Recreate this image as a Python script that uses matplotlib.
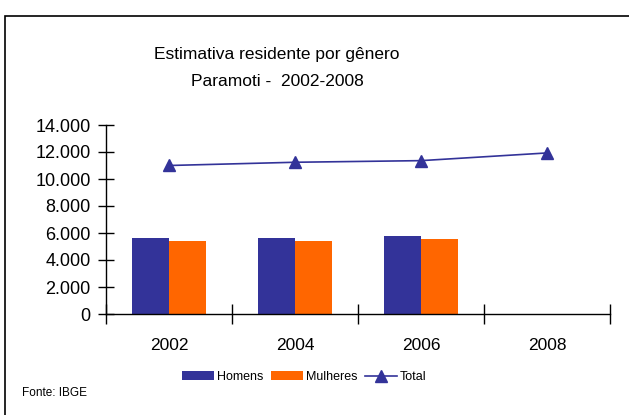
import matplotlib
matplotlib.use("Agg")
import matplotlib.pyplot as plt
import numpy as np
from matplotlib.patches import Rectangle

# data
years = ["2002", "2004", "2006", "2008"]
homens = [5630, 5630, 5780, np.nan]
mulheres = [5410, 5410, 5560, np.nan]
total = [11000, 11240, 11360, 11930]

plt.rcParams["font.family"] = ["Liberation Sans", "DejaVu Sans"]

W, H = 629, 415
fig = plt.figure(figsize=(W / 100, H / 100), dpi=100)

# outer chart frame (cut off on the right and bottom)
fig.patches.append(Rectangle((5 / W, -0.1), 1.2, 1 - 16 / H + 0.1,
                             transform=fig.transFigure, fill=False,
                             edgecolor="black", linewidth=1.2))

ax = fig.add_axes([106 / W, 1 - 314 / H, (610 - 106) / W, (314 - 125) / H])

x = np.arange(len(years))
bw = 0.29
b1 = ax.bar(x - bw / 2, homens, bw, color="#333399", label="Homens")
b2 = ax.bar(x + bw / 2, mulheres, bw, color="#FF6600", label="Mulheres")
l1, = ax.plot(x, total, color="#333399", lw=1.2, marker="^", ms=8, label="Total")

ax.set_xlim(-0.5, len(years) - 0.5)
ax.set_ylim(0, 14000)
ax.set_yticks(np.arange(0, 14001, 2000))
ax.set_yticklabels([f"{v:,}".replace(",", ".") for v in range(0, 14001, 2000)])
ax.set_xticks(x)
ax.set_xticklabels(years)
ax.set_xticks(np.arange(-0.5, len(years)), minor=True)
ax.tick_params(axis="x", which="major", length=0, pad=17, labelsize=12.5)
ax.tick_params(axis="x", which="minor", direction="inout", length=14, width=1)
ax.tick_params(axis="y", direction="inout", length=12, width=1, pad=5, labelsize=13)
for s in ["top", "right"]:
    ax.spines[s].set_visible(False)
for s in ["left", "bottom"]:
    ax.spines[s].set_linewidth(1)

fig.text(277 / W, 1 - 55 / H, "Estimativa residente por gênero", ha="center",
         va="center", fontsize=12.5)
fig.text(277 / W, 1 - 82 / H, "Paramoti -  2002-2008", ha="center",
         va="center", fontsize=12.5)

fig.legend([b1, b2, l1], ["Homens", "Mulheres", "Total"], loc="center",
           bbox_to_anchor=(304 / W, 1 - 377 / H), ncol=3,
           frameon=False, handlelength=2.6, handleheight=0.75,
           handletextpad=0.2, columnspacing=0.6, fontsize=9)

fig.text(22 / W, 1 - 393 / H, "Fonte: IBGE", ha="left", va="center",
         fontsize=8.5)

fig.savefig("out.png", dpi=100)
